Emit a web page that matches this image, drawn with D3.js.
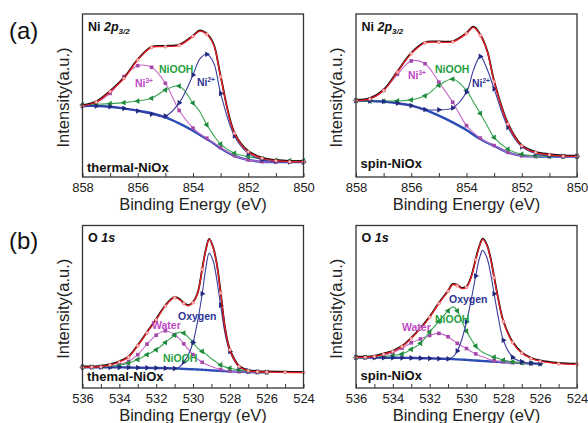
<!DOCTYPE html>
<html>
<head>
<meta charset="utf-8">
<script src="https://cdn.jsdelivr.net/npm/d3@7"></script>
<style>
  body { margin: 0; background: #fff; }
  svg { font-family: "Liberation Sans", Arial, sans-serif; }
  .axis text { font-size: 13px; fill: #222; }
  .axis line { stroke: #333; }
</style>
</head>
<body>
<svg width="588" height="423"></svg>
<script>
// binding energy grids (eV)
var niEnergy = [858, 857.5, 857, 856.5, 856, 855.5, 855, 854.5, 854, 853.75, 853.5, 853.25, 853, 852.5, 852, 851.5, 851, 850.5, 850];
var oEnergy = [536, 535.5, 535, 534.5, 534, 533.5, 533, 532.5, 532, 531.5, 531, 530.75, 530.5, 530.25, 530, 529.75, 529.5, 529.3, 529.12, 528.9, 528.7, 528.5, 528.25, 528, 527.5, 527, 526.5, 526, 525, 524];

var niTicks = [858, 857, 856, 855, 854, 853, 852, 851, 850];
var oTicks = [536, 535, 534, 533, 532, 531, 530, 529, 528, 527, 526, 525, 524];

// (a) Ni 2p3/2, thermal-NiOx  (intensity in a.u., 0 = frame bottom, 100 = frame top)
var thermalNiFit = [43.6, 46.0, 52.4, 60.5, 71.8, 79.5, 80.0, 80.8, 86.3, 89.5, 87.5, 81, 61.5, 26.8, 15.5, 11.5, 10.0, 9.4, 9.4];
var thermalNiBg = [43.6, 43.6, 43.1, 42.1, 40.7, 39.1, 36.6, 32.9, 28.4, 25.8, 23.2, 20.6, 17.6, 12.9, 10.4, 9.4, 9.2, 9.2, 9.2];
var thermalNi3 = [43.6, 45.6, 51.3, 61.6, 68.3, 67.3, 57.5, 40.8, 30, 26.5, 23.8, 21.0, 18.0, 13.1, 10.5, 9.4, 9.2, 9.2, 9.2];
var thermalNiOOH = [44.2, 44.6, 45.0, 45.6, 46.6, 48.3, 53.4, 55.8, 45.4, 40, 32, 25.5, 20.2, 14.5, 12.5, 11.2, 10.4, 10.0, 10.0];
var thermalNi2 = [43.6, 43.6, 43.1, 42.1, 40.5, 38.5, 37.4, 45.5, 62.6, 72.5, 75.3, 70, 51.3, 25.2, 14.5, 10.6, 9.6, 9.2, 9.2];

// (a) Ni 2p3/2, spin-NiOx
var spinNiFit = [46.9, 47.9, 53.1, 64.4, 75.7, 82.3, 82.7, 82.9, 88, 91.8, 87, 77, 58.5, 32.5, 19.1, 15.0, 13.6, 12.8, 12.6];
var spinNiBg = [46.9, 46.7, 46.3, 45.3, 43.8, 41.2, 37.7, 33.5, 28.8, 26.0, 23.3, 21.0, 19.1, 15.0, 13.0, 12.6, 12.6, 12.6, 12.6];
var spinNi3 = [46.9, 47.9, 53.1, 63.0, 71.2, 69.5, 58.2, 45.9, 31.5, 27.2, 23.9, 21.3, 19.3, 15.1, 13.0, 12.6, 12.6, 12.6, 12.6];
var spinNiOOH = [46.9, 46.5, 46.5, 46.7, 47.3, 49.8, 56.2, 60.1, 53.1, 46, 39, 31.5, 24.3, 17.1, 14.0, 13.0, 12.6, 12.6, 12.6];
var spinNi2 = [46.9, 46.7, 46.3, 45.3, 43.8, 41.4, 41.2, 42.4, 52.1, 65.4, 74, 66, 54.1, 30.5, 18.5, 14.4, 13.0, 12.6, 12.6];

// (b) O 1s, thermal-NiOx
var thermalOFit = [12.8, 12.9, 13.1, 14.2, 16, 19, 26, 34, 42, 50.5, 55.6, 54.5, 52, 50.6, 52.5, 58, 73, 85, 91.4, 86, 75.5, 58.5, 36, 23.5, 13.2, 10.6, 10.0, 9.8, 9.6, 9.5];
var thermalOBg = [12.8, 12.8, 12.8, 12.7, 12.7, 12.6, 12.5, 12.4, 12.3, 12.2, 12.0, 11.9, 11.8, 11.6, 11.5, 11.4, 11.2, 11.1, 10.9, 10.8, 10.6, 10.5, 10.4, 10.2, 10.0, 9.8, 9.7, 9.6, null, null];
var thermalOWater = [12.8, 12.9, 13.1, 13.6, 14.5, 16.3, 20.5, 27, 32.5, 35.2, 32.8, 30.5, 27.2, 23.8, 20.5, 17.8, 15.8, 14.6, 13.8, 12.8, 12.0, 11.4, 10.9, 10.5, 10.0, 9.8, 9.7, 9.6, null, null];
var thermalONiOOH = [12.8, 12.9, 13.0, 13.3, 14.0, 15.3, 17.5, 20.5, 23.5, 28, 32.5, 34.3, 33.8, 31.2, 28, 24.5, 22.5, 21, 19.2, 17.2, 15.6, 14.2, 13.0, 12.2, 11.1, 10.3, 9.9, 9.7, null, null];
var thermalOOxygen = [12.8, 12.8, 12.8, 12.7, 12.7, 12.6, 12.5, 12.4, 12.3, 12.2, 12.0, 12.8, 16.0, 20.5, 28, 41, 58, 74, 83, 78, 66, 51, 33, 22.5, 13, 10.5, 9.9, 9.7, null, null];

// (b) O 1s, spin-NiOx
var spinOFit = [18.8, 18.9, 19.4, 20.8, 22.5, 25.5, 30.5, 36.5, 43.5, 52, 59.5, 63.6, 63, 61.2, 62, 68, 79, 87, 91.5, 88, 80, 68, 53, 41, 28, 21.5, 18.2, 16.5, 15, 14.5];
var spinOBg = [18.8, 18.75, 18.7, 18.65, 18.6, 18.55, 18.5, 18.35, 18.2, 18.05, 17.9, 17.75, 17.6, 17.45, 17.3, 17.1, 16.9, 16.75, 16.65, 16.5, 16.35, 16.2, 16.05, 15.9, 15.6, 15.3, 15.1, 14.9, null, null];
var spinOWater = [18.8, 18.9, 19.2, 20.1, 21.7, 24.5, 27.8, 30.2, 32.3, 33.6, 31.5, 29.5, 27.5, 25.8, 24.3, 22.5, 21, 19.9, 19.2, 18.2, 17.3, 16.8, 16.4, 16.1, 15.6, 15.3, 15.1, 14.9, null, null];
var spinONiOOH = [18.8, 18.8, 19.0, 19.4, 20, 21, 23.8, 27.5, 34.5, 41, 47.5, 49.9, 47.5, 41, 35, 30, 25.8, 23.5, 22, 20.8, 19.9, 19.0, 18.1, 17.2, 16.1, 15.5, 15.2, 14.9, null, null];
var spinOOxygen = [18.8, 18.75, 18.7, 18.65, 18.6, 18.55, 18.5, 18.35, 18.2, 18.05, 17.9, 19, 22.8, 30, 40.7, 54, 69, 79.6, 84.7, 80.5, 71, 58, 42, 29.4, 19, 16.2, 15.3, 14.9, null, null];

var svg = d3.select("svg");

var RED = "#ee1c24", BG = "#2c4cb8",
    NAVY = "#3a3c9e", NAVYM = "#22287e",
    MAG = "#c46ac8", MAGM = "#a449aa",
    GRN = "#35a550", GRNM = "#1f8a3c";

function drawPanel(p) {
  var x = d3.scaleLinear().domain(p.dom).range([p.left, p.right]);
  var y = d3.scaleLinear().domain([0, 100]).range([p.bottom, p.top]);
  var g = svg.append("g");

  var line = d3.line()
      .defined(function(d) { return d[1] != null; })
      .x(function(d) { return x(d[0]); })
      .y(function(d) { return y(d[1]); })
      .curve(d3.curveCatmullRom.alpha(0.5));

  function pts(vals) {
    return p.energy.map(function(e, i) { return [e, vals[i]]; });
  }
  function marks(vals) {
    return pts(vals).filter(function(d) { return d[1] != null && (d[0] * 2) % 1 === 0; });
  }

  // background
  g.append("path").attr("d", line(pts(p.bg)))
      .attr("fill", "none").attr("stroke", BG).attr("stroke-width", 2.4);

  // components
  var comps = [
    {v: p.c1, col: MAG, mc: MAGM, sym: "sq"},
    {v: p.c2, col: GRN, mc: GRNM, sym: "left"},
    {v: p.c3, col: NAVY, mc: NAVYM, sym: "right"}
  ];
  comps.forEach(function(c) {
    g.append("path").attr("d", line(pts(c.v)))
        .attr("fill", "none").attr("stroke", c.col).attr("stroke-width", 1.1);
    var sym = c.sym === "sq" ? d3.symbol().type(d3.symbolSquare).size(13)
                             : d3.symbol().type(d3.symbolTriangle).size(14);
    g.selectAll(null).data(marks(c.v)).enter().append("path")
        .attr("d", sym)
        .attr("fill", c.mc)
        .attr("transform", function(d) {
          var rot = c.sym === "right" ? 90 : (c.sym === "left" ? -90 : 0);
          return "translate(" + x(d[0]) + "," + y(d[1]) + ")rotate(" + rot + ")";
        });
  });

  // raw data (black) under the fitted envelope (red)
  g.append("path").attr("d", line(pts(p.fit)))
      .attr("fill", "none").attr("stroke", "#111").attr("stroke-width", 1.8)
      .attr("transform", "translate(0,-0.7)");
  g.append("path").attr("d", line(pts(p.fit)))
      .attr("fill", "none").attr("stroke", RED).attr("stroke-width", 1.3);
  g.selectAll(null).data(marks(p.fit)).enter().append("circle")
      .attr("cx", function(d) { return x(d[0]); })
      .attr("cy", function(d) { return y(d[1]); })
      .attr("r", 1.5)
      .attr("fill", "#fbd0d0").attr("stroke", "#f25a5a").attr("stroke-width", 0.7);

  // frame
  g.append("rect")
      .attr("x", p.left).attr("y", p.top)
      .attr("width", p.right - p.left).attr("height", p.bottom - p.top)
      .attr("fill", "none").attr("stroke", "#333").attr("stroke-width", 1.3);

  var ax = g.append("g").attr("class", "axis")
      .attr("transform", "translate(0," + p.bottom + ")")
      .call(d3.axisBottom(x).tickValues(p.ticks).tickSize(-4).tickPadding(5.5)
        .tickFormat(function(d) { return d % 2 === 0 ? d : ""; }));
  ax.select(".domain").remove();

  // axis titles
  g.append("text")
      .attr("x", (p.left + p.right) / 2).attr("y", p.bottom + 33)
      .attr("text-anchor", "middle").attr("font-size", 16.5).attr("fill", "#222")
      .text("Binding Energy (eV)");
  g.append("text")
      .attr("transform", "translate(" + (p.left - 14) + "," + ((p.top + p.bottom) / 2 + 2) + ")rotate(-90)")
      .attr("text-anchor", "middle").attr("font-size", 16.5).attr("fill", "#222")
      .text("Intensity(a.u.)");

  // title in corner
  var t = g.append("text").attr("x", p.left + 5.5).attr("y", p.top + 16.5)
      .attr("font-size", 12.5).attr("font-weight", "bold").attr("fill", "#111");
  if (p.kind === "ni") {
    t.append("tspan").text("Ni ");
    t.append("tspan").attr("font-style", "italic").text("2p");
    t.append("tspan").attr("font-style", "italic").attr("font-size", 8).attr("dy", 3).text("3/2");
  } else {
    t.append("tspan").text("O ");
    t.append("tspan").attr("font-style", "italic").text("1s");
  }
  g.append("text").attr("x", p.left + 4.5).attr("y", p.sampleY)
      .attr("font-size", 13).attr("font-weight", "bold").attr("fill", "#111")
      .text(p.sample);

  // component labels
  p.labels.forEach(function(l) {
    var tx = g.append("text").attr("x", l.x).attr("y", l.y)
        .attr("font-size", 10.5).attr("font-weight", "bold").attr("fill", l.col);
    tx.append("tspan").text(l.text);
    if (l.sup) tx.append("tspan").attr("font-size", 6.5).attr("dy", -4).text(l.sup);
  });
}

var LBL_MAG = "#c04ac4", LBL_GRN = "#25a040", LBL_NAVY = "#2e3596";

drawPanel({kind: "ni", left: 82.5, right: 303.5, top: 14, bottom: 177, dom: [858, 850],
  energy: niEnergy, ticks: niTicks, fit: thermalNiFit, bg: thermalNiBg,
  c1: thermalNi3, c2: thermalNiOOH, c3: thermalNi2, sample: "thermal-NiOx", sampleY: 171.5,
  labels: [{x: 135, y: 87, text: "Ni", sup: "3+", col: LBL_MAG},
           {x: 159, y: 72.5, text: "NiOOH", col: LBL_GRN},
           {x: 197, y: 86, text: "Ni", sup: "2+", col: LBL_NAVY}]});

drawPanel({kind: "ni", left: 356, right: 577, top: 14, bottom: 177, dom: [858, 850],
  energy: niEnergy, ticks: niTicks, fit: spinNiFit, bg: spinNiBg,
  c1: spinNi3, c2: spinNiOOH, c3: spinNi2, sample: "spin-NiOx", sampleY: 168,
  labels: [{x: 408, y: 79, text: "Ni", sup: "3+", col: LBL_MAG},
           {x: 435, y: 73, text: "NiOOH", col: LBL_GRN},
           {x: 472, y: 87, text: "Ni", sup: "2+", col: LBL_NAVY}]});

drawPanel({kind: "o", left: 82.5, right: 303.5, top: 225.5, bottom: 388, dom: [536, 524],
  energy: oEnergy, ticks: oTicks, fit: thermalOFit, bg: thermalOBg,
  c1: thermalOWater, c2: thermalONiOOH, c3: thermalOOxygen, sample: "themal-NiOx", sampleY: 381,
  labels: [{x: 152, y: 328.5, text: "Water", col: LBL_MAG},
           {x: 178, y: 320, text: "Oxygen", col: LBL_NAVY},
           {x: 163, y: 362, text: "NiOOH", col: LBL_GRN}]});

drawPanel({kind: "o", left: 356, right: 577, top: 225.5, bottom: 388, dom: [536, 524],
  energy: oEnergy, ticks: oTicks, fit: spinOFit, bg: spinOBg,
  c1: spinOWater, c2: spinONiOOH, c3: spinOOxygen, sample: "spin-NiOx", sampleY: 379.5,
  labels: [{x: 402, y: 330.5, text: "Water", col: LBL_MAG},
           {x: 449, y: 302.5, text: "Oxygen", col: LBL_NAVY},
           {x: 435, y: 322.5, text: "NiOOH", col: LBL_GRN}]});

// panel letters
svg.append("text").attr("x", 9).attr("y", 38.5).attr("font-size", 24).attr("fill", "#111").text("(a)");
svg.append("text").attr("x", 9).attr("y", 249).attr("font-size", 24).attr("fill", "#111").text("(b)");
</script>
</body>
</html>
